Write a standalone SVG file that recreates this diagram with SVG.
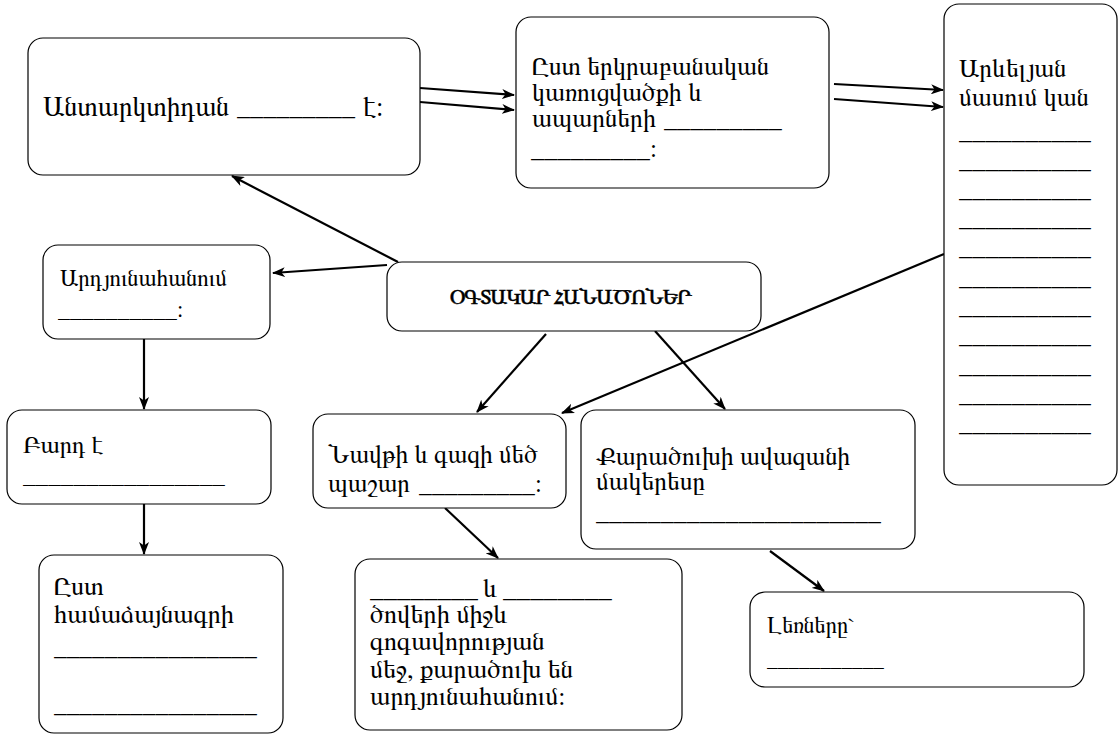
<svg xmlns="http://www.w3.org/2000/svg" width="1120" height="735" viewBox="0 0 1120 735">
<defs>
<marker id="ah" viewBox="0 0 13 10" refX="12" refY="5" markerWidth="13" markerHeight="10" markerUnits="userSpaceOnUse" orient="auto">
<path d="M0,0 L13,5 L0,10 L3.5,5 Z" fill="#000"/>
</marker>
<style>
.box{fill:#fff;stroke:#000;stroke-width:1.2}
.t{font-family:FreeSerif,"Noto Serif Armenian","DejaVu Serif",serif;fill:#000}
.c{stroke:#000;stroke-width:2.2;fill:none;marker-end:url(#ah)}
</style>
</defs>
<rect width="1120" height="735" fill="#fff"/>
<g id="connectors">
<line class="c" x1="420" y1="88" x2="514" y2="95"/>
<line class="c" x1="420" y1="102" x2="514" y2="110"/>
<line class="c" x1="834" y1="84" x2="943" y2="90"/>
<line class="c" x1="834" y1="99" x2="943" y2="107"/>
<line class="c" x1="398" y1="262" x2="232" y2="176"/>
<line class="c" x1="387" y1="265" x2="273" y2="273"/>
<line class="c" x1="144" y1="339" x2="144" y2="409"/>
<line class="c" x1="144" y1="504" x2="144" y2="554"/>
<line class="c" x1="546" y1="334" x2="477" y2="412"/>
<line class="c" x1="655" y1="331" x2="725" y2="409"/>
<line class="c" x1="944" y1="254" x2="562" y2="413"/>
<line class="c" x1="445" y1="508" x2="498" y2="558"/>
<line class="c" x1="770" y1="551" x2="824" y2="591"/>
</g>
<g id="n1" class="t" font-size="27">
<rect class="box" x="28" y="38" width="392" height="137" rx="15"/>
<text x="43" y="116">Անտարկտիդան</text>
<text x="237" y="115" textLength="118" lengthAdjust="spacingAndGlyphs">_________</text>
<text x="363" y="116">է:</text>
</g>
<g id="n2" class="t" font-size="25.5">
<rect class="box" x="516" y="17" width="313" height="171" rx="15"/>
<text x="532" y="75">Ըստ երկրաբանական</text>
<text x="532" y="101">կառուցվածքի և</text>
<text x="532" y="127">ապարների</text>
<text x="664" y="127" textLength="118" lengthAdjust="spacingAndGlyphs">_________</text>
<text x="531" y="157" textLength="119" lengthAdjust="spacingAndGlyphs">_________</text>
<text x="650" y="157">:</text>
</g>
<g id="n3" class="t" font-size="25.5">
<rect class="box" x="944" y="4" width="173" height="481" rx="15"/>
<text x="959" y="77">Արևելյան</text>
<text x="959" y="106">մասում կան</text>
<text x="959" y="139" textLength="132" lengthAdjust="spacingAndGlyphs">__________</text>
<text x="959" y="168" textLength="132" lengthAdjust="spacingAndGlyphs">__________</text>
<text x="959" y="197" textLength="132" lengthAdjust="spacingAndGlyphs">__________</text>
<text x="959" y="226" textLength="132" lengthAdjust="spacingAndGlyphs">__________</text>
<text x="959" y="255" textLength="132" lengthAdjust="spacingAndGlyphs">__________</text>
<text x="959" y="285" textLength="132" lengthAdjust="spacingAndGlyphs">__________</text>
<text x="959" y="314" textLength="132" lengthAdjust="spacingAndGlyphs">__________</text>
<text x="959" y="343" textLength="132" lengthAdjust="spacingAndGlyphs">__________</text>
<text x="959" y="373" textLength="132" lengthAdjust="spacingAndGlyphs">__________</text>
<text x="959" y="402" textLength="132" lengthAdjust="spacingAndGlyphs">__________</text>
<text x="959" y="431" textLength="132" lengthAdjust="spacingAndGlyphs">__________</text>
</g>
<g id="n4" class="t" font-size="23">
<rect class="box" x="43" y="245" width="227" height="94" rx="15"/>
<text x="60" y="286">Արդյունահանում</text>
<text x="58" y="317" textLength="119" lengthAdjust="spacingAndGlyphs">__________</text>
<text x="177" y="317">:</text>
</g>
<g id="n5" class="t" font-size="21.5">
<rect class="box" x="387" y="262" width="374" height="69" rx="15"/>
<text x="450" y="304" textLength="242" lengthAdjust="spacing" stroke="#000" stroke-width="0.5">ՕԳՏԱԿԱՐ ՀԱՆԱԾՈՆԵՐ</text>
</g>
<g id="n6" class="t" font-size="24.5">
<rect class="box" x="7" y="410" width="264" height="94" rx="15"/>
<text x="23" y="453">Բարդ է</text>
<text x="23" y="483" textLength="202" lengthAdjust="spacingAndGlyphs">________________</text>
</g>
<g id="n7" class="t" font-size="26">
<rect class="box" x="39" y="555" width="244" height="178" rx="15"/>
<text x="54" y="595">Ըստ</text>
<text x="54" y="623">համաձայնագրի</text>
<text x="54" y="655" textLength="203" lengthAdjust="spacingAndGlyphs">________________</text>
<text x="54" y="712" textLength="203" lengthAdjust="spacingAndGlyphs">________________</text>
</g>
<g id="n8" class="t" font-size="25">
<rect class="box" x="313" y="414" width="253" height="94" rx="15"/>
<text x="328" y="463">Նավթի և գազի մեծ</text>
<text x="328" y="492">պաշար</text>
<text x="419" y="492" textLength="116" lengthAdjust="spacingAndGlyphs">_________</text>
<text x="535" y="492">:</text>
</g>
<g id="n9" class="t" font-size="26">
<rect class="box" x="355" y="559" width="327" height="171" rx="15"/>
<text x="370" y="597" textLength="108" lengthAdjust="spacingAndGlyphs">________</text>
<text x="483" y="597">և</text>
<text x="503" y="597" textLength="109" lengthAdjust="spacingAndGlyphs">________</text>
<text x="370" y="623">ծովերի միջև</text>
<text x="370" y="650">գոգավորության</text>
<text x="370" y="678">մեջ, քարածուխ են</text>
<text x="370" y="705">արդյունահանում:</text>
</g>
<g id="n10" class="t" font-size="25.3">
<rect class="box" x="581" y="410" width="334" height="139" rx="15"/>
<text x="596" y="465">Քարածուխի ավազանի</text>
<text x="596" y="490">մակերեսը</text>
<text x="596" y="520" textLength="285" lengthAdjust="spacingAndGlyphs">______________________</text>
</g>
<g id="n11" class="t" font-size="22.5">
<rect class="box" x="750" y="592" width="334" height="95" rx="15"/>
<text x="767" y="633">Լեռները`</text>
<text x="767" y="666" textLength="117" lengthAdjust="spacingAndGlyphs">___________</text>
</g>
</svg>
